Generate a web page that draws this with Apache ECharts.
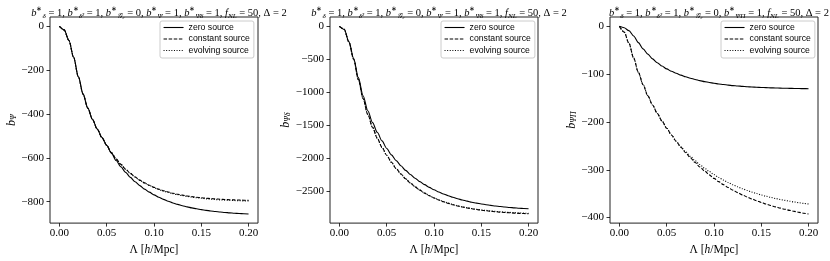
<!DOCTYPE html>
<html><head><meta charset="utf-8">
<script src="https://cdn.jsdelivr.net/npm/echarts@6/dist/echarts.min.js"></script>
<style>html,body{margin:0;padding:0;background:#fff}#c{width:830px;height:261px}</style>
</head><body><div id="c"></div>
<script>
// ---- data ----
const lam = [0, 0.005, 0.01, 0.015, 0.02, 0.025, 0.03, 0.035, 0.04, 0.045, 0.05, 0.055, 0.06, 0.065, 0.07, 0.075, 0.08, 0.085, 0.09, 0.095, 0.1,
  0.105, 0.11, 0.115, 0.12, 0.125, 0.13, 0.135, 0.14, 0.145, 0.15, 0.155, 0.16, 0.165, 0.17, 0.175, 0.18, 0.185, 0.19, 0.195, 0.2];
const seriesNames = ['zero source', 'constant source', 'evolving source'];

const p1Zero = [0, -16, -64, -141, -230, -309, -373, -425, -469, -508, -543, -579.7, -612.2, -641, -666.5, -689.2, -709.2, -727, -742.7, -756.7, -769,
  -780, -789.7, -798.2, -805.9, -812.6, -818.6, -823.9, -828.6, -832.7, -836.4, -839.7, -842.6, -845.1, -847.4, -849.4, -851.2, -852.8, -854.2, -855.4, -856.5];
const p1Const = [0, -16, -64, -141, -230, -309, -373, -425, -469, -508, -543, -576.1, -605, -630.1, -651.9, -670.9, -687.4, -701.8, -714.3, -725.2, -734.7,
  -742.9, -750.1, -756.3, -761.7, -766.4, -770.5, -774.1, -777.2, -779.9, -782.3, -784.3, -786.1, -787.6, -789, -790.2, -791.2, -792.1, -792.8, -793.5, -794.1];
const p1Evol = [0, -16, -64, -141, -230, -309, -373, -425, -469, -508, -543, -576.6, -605.5, -630.6, -652.4, -671.4, -688.4, -702.8, -715.3, -726.2, -735.7,
  -744.9, -752.1, -758.3, -763.7, -768.4, -772.5, -776.1, -779.2, -781.9, -784.3, -787.3, -789.1, -790.6, -792, -793.2, -794.2, -795.1, -795.8, -796.5, -797.1];

const p2Zero = [0, -45, -230, -485, -780, -1055, -1283, -1463, -1611, -1741, -1856, -1953.2, -2040.6, -2119, -2189.5, -2252.8, -2309.7, -2360.8, -2406.7, -2447.9, -2484.9,
  -2518.2, -2548.1, -2574.9, -2599, -2620.7, -2640.1, -2657.6, -2673.3, -2687.4, -2700.1, -2711.5, -2721.7, -2730.9, -2739.1, -2746.5, -2753.2, -2759.2, -2764.5, -2769.4, -2773.7];
const p2Const = [0, -45, -240, -500, -810, -1100, -1340, -1535, -1700, -1840, -1960, -2066.8, -2161.1, -2244.4, -2317.8, -2382.6, -2439.8, -2490.3, -2534.9, -2574.3, -2609,
  -2639.6, -2666.7, -2690.5, -2711.6, -2730.2, -2746.6, -2761.1, -2773.9, -2785.2, -2795.1, -2803.9, -2811.7, -2818.5, -2824.6, -2829.9, -2834.6, -2838.8, -2842.5, -2845.7, -2848.5];
const p2Evol = [0, -45, -240, -500, -810, -1100, -1340, -1535, -1700, -1840, -1960, -2066.8, -2161.1, -2244.4, -2317.8, -2380.6, -2437.8, -2488.3, -2532.9, -2572.3, -2607,
  -2635.6, -2662.7, -2686.5, -2707.6, -2726.2, -2742.6, -2757.1, -2769.9, -2781.2, -2791.1, -2797.9, -2805.7, -2812.5, -2818.6, -2823.9, -2828.6, -2832.8, -2836.5, -2839.7, -2842.5];

const p3Zero = [0, -3, -9, -20, -34, -47, -58, -68, -76, -83, -89, -93.9, -98.2, -102.1, -105.5, -108.5, -111.1, -113.5, -115.6, -117.4, -119,
  -120.5, -121.7, -122.9, -123.9, -124.7, -125.5, -126.2, -126.8, -127.3, -127.8, -128.2, -128.6, -128.9, -129.2, -129.5, -129.7, -129.9, -130.1, -130.3, -130.4];
const p3Const = [0, -12, -35, -66, -96, -122, -145, -164.5, -182, -198, -213, -227.3, -240.5, -252.9, -264.3, -275, -284.9, -294.1, -302.6, -310.6, -318,
  -324.8, -331.2, -337.1, -342.6, -347.8, -352.5, -356.9, -361, -364.9, -368.4, -371.7, -374.8, -377.6, -380.2, -382.7, -385, -387.1, -389.1, -390.9, -392.6];
const p3Evol = [0, -12, -35, -66, -96, -122, -145, -164.5, -182, -198, -213, -227.3, -240.5, -251.9, -262.3, -272, -280.9, -289.1, -296.7, -303.7, -310.2,
  -316.1, -321.6, -326.7, -331.4, -335.7, -339.6, -343.3, -346.7, -349.8, -352.7, -355.4, -357.8, -360.1, -362.2, -364.1, -365.9, -367.5, -369, -370.4, -371.7];

const xTicks = [0, 0.05, 0.1, 0.15, 0.2];
const p1YTicks = [0, -200, -400, -600, -800];
const p2YTicks = [0, -500, -1000, -1500, -2000, -2500];
const p3YTicks = [0, -100, -200, -300, -400];

const titleA = '{i|b}{sup|∗}{sub|δ} = 1, {i|b}{sup|∗}{sub|δ²} = 1, {i|b}{sup|∗}{sub|𝒢₂} = 0, {i|b}{sup|∗}{sub|Ψ} = 1, {i|b}{sup|∗}{sub|Ψδ} = 1, {i|f}{sub|NL} = 50, Δ = 2';
const titleC = '{i|b}{sup|∗}{sub|δ} = 1, {i|b}{sup|∗}{sub|δ²} = 1, {i|b}{sup|∗}{sub|𝒢₂} = 0, {i|b}{sup|∗}{sub|ΨΠ} = 1, {i|f}{sub|NL} = 50, Δ = 2';
const yNames = ['{i|b}{sub|Ψ}', '{i|b}{sub|Ψδ}', '{i|b}{sub|ΨΠ}'];
const xName = 'Λ [{i|h}/Mpc]';

// ---- layout ----
const panels = [
  {left: 50, ticks: p1YTicks, min: -898, max: 43, data: [p1Zero, p1Const, p1Evol], title: titleA, legendLeft: 160, nameGap: 30},
  {left: 330, ticks: p2YTicks, min: -2991, max: 142, data: [p2Zero, p2Const, p2Evol], title: titleA, legendLeft: 441, nameGap: 36},
  {left: 610, ticks: p3YTicks, min: -411.6, max: 19.6, data: [p3Zero, p3Const, p3Evol], title: titleC, legendLeft: 721, nameGap: 30}
];
const W = 208, H = 208, TOP = 17;
const serif = 'Liberation Serif';
const minus = v => (v < 0 ? '\u2212' : '') + Math.abs(v);
const richMath = (fs) => ({
  i: {fontStyle: 'italic', fontFamily: serif, fontSize: fs, color: '#000'},
  sup: {fontSize: fs * 0.62, fontFamily: serif, verticalAlign: 'top', color: '#000'},
  sub: {fontSize: fs * 0.68, fontFamily: serif, fontStyle: 'italic', verticalAlign: 'bottom', color: '#000'}
});
const lineTypes = ['solid', [3.5, 1.6], [1, 1.6]];

const option = {
  animation: false,
  backgroundColor: '#fff',
  title: panels.map(p => ({
    text: p.title, left: p.left + W / 2, top: 1, textAlign: 'center',
    textStyle: {fontFamily: serif, fontSize: 10.5, fontWeight: 'normal', color: '#000', lineHeight: 14, rich: richMath(10.5)}
  })),
  grid: panels.map(p => ({left: p.left, top: TOP, width: W, height: H, show: true, borderColor: '#222', borderWidth: 1, containLabel: false})),
  legend: panels.map(p => ({
    left: p.legendLeft, top: 21, orient: 'vertical', data: seriesNames, selectedMode: false,
    itemWidth: 20, itemHeight: 10, itemGap: 2.5, padding: [2, 4, 3, 3],
    borderColor: '#ccc', borderWidth: 1, borderRadius: 2, backgroundColor: 'rgba(255,255,255,0.8)',
    itemStyle: {color: 'rgba(0,0,0,0)', borderColor: 'rgba(0,0,0,0)', borderWidth: 0},
    lineStyle: {width: 1.1},
    textStyle: {fontFamily: 'Liberation Sans', fontSize: 8.7, color: '#000'}
  })),
  xAxis: panels.map((p, i) => ({
    type: 'value', gridIndex: i, min: -0.01, max: 0.21,
    axisLine: {show: false, onZero: false},
    axisTick: {show: true, customValues: xTicks, length: 3.5, lineStyle: {color: '#000', width: 0.8}},
    axisLabel: {customValues: xTicks, formatter: v => v.toFixed(2), fontFamily: serif, fontSize: 11, color: '#000', margin: 5},
    splitLine: {show: false},
    name: xName, nameLocation: 'middle', nameGap: 13,
    nameTextStyle: {fontFamily: serif, fontSize: 11.5, color: '#000', rich: {i: {fontStyle: 'italic', fontFamily: serif, fontSize: 11.5, color: '#000'}}}
  })),
  yAxis: panels.map((p, i) => ({
    type: 'value', gridIndex: i, min: p.min, max: p.max,
    axisLine: {show: false, onZero: false},
    axisTick: {show: true, customValues: p.ticks, length: 3.5, lineStyle: {color: '#000', width: 0.8}},
    axisLabel: {customValues: p.ticks, formatter: minus, fontFamily: serif, fontSize: 11, color: '#000', margin: 6},
    splitLine: {show: false},
    name: yNames[i], nameLocation: 'middle', nameGap: p.nameGap, nameRotate: 90,
    nameTextStyle: {fontFamily: serif, fontSize: 12, color: '#000', rich: richMath(12)}
  })),
  series: []
};
panels.forEach((p, i) => {
  p.data.forEach((arr, k) => {
    option.series.push({
      type: 'line', name: seriesNames[k], xAxisIndex: i, yAxisIndex: i,
      data: lam.map((x, j) => [x, arr[j]]),
      symbol: 'none', smooth: 0.3, smoothMonotone: 'x',
      color: '#000',
      lineStyle: {color: '#000', width: 1.1, type: lineTypes[k]},
      z: 3 - k
    });
  });
});
const chart = echarts.init(document.getElementById('c'), null, {renderer: 'canvas'});
chart.setOption(option);
</script>
</body></html>
